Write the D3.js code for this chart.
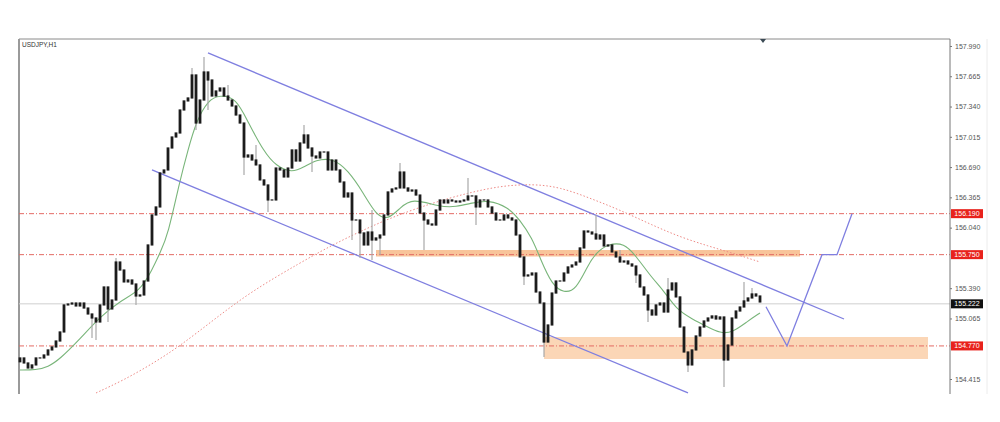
<!DOCTYPE html>
<html><head><meta charset="utf-8">
<script src="https://cdn.jsdelivr.net/npm/d3@7"></script>
<style>html,body{margin:0;padding:0;background:#fff;}svg{display:block;font-family:"Liberation Sans",Arial,sans-serif;}</style>
</head><body>
<svg id="c" width="1000" height="422"></svg>
<script>
// ---- data (USDJPY H1) ----
const symbolTitle = "USDJPY,H1";
const firstOpen = 154.600;
const closes = [
154.641,154.587,154.533,154.566,154.641,154.641,154.673,154.727,154.759,154.823,
154.920,155.210,155.220,155.231,155.199,155.231,155.177,155.113,155.070,155.027,
155.210,155.403,155.167,155.263,155.671,155.585,155.457,155.478,155.435,155.306,
155.317,155.467,155.854,156.176,156.262,156.627,156.659,156.895,157.013,157.056,
157.303,157.400,157.432,157.679,157.163,157.410,157.711,157.625,157.453,157.507,
157.539,157.453,157.410,157.346,157.249,157.163,156.798,156.820,156.766,156.713,
156.552,156.498,156.337,156.337,156.680,156.659,156.584,156.680,156.874,156.755,
156.949,157.035,156.895,156.809,156.788,156.852,156.852,156.659,156.766,156.659,
156.530,156.369,156.412,156.122,156.122,155.983,155.854,155.993,155.907,155.929,
155.961,156.176,156.423,156.455,156.466,156.637,156.466,156.433,156.444,156.390,
156.197,156.122,156.079,156.068,156.229,156.337,156.305,156.337,156.326,156.315,
156.326,156.337,156.380,156.380,156.262,156.337,156.337,156.262,156.197,156.122,
156.122,156.176,156.144,156.122,155.961,155.725,155.521,155.532,155.553,155.349,
155.231,154.812,154.995,155.338,155.467,155.467,155.553,155.618,155.639,155.671,
155.822,156.004,155.993,155.972,155.918,155.961,155.843,155.854,155.779,155.725,
155.671,155.682,155.650,155.628,155.532,155.403,155.317,155.156,155.102,155.210,
155.231,155.134,155.371,155.446,155.296,154.973,154.705,154.566,154.727,154.877,
154.973,155.038,155.070,155.092,155.059,155.081,154.619,154.780,155.070,155.145,
155.188,155.253,155.285,155.328,155.306,155.242
];
// notable wicks: [bar index, high, low]
const wicks = [
[18,null,154.855],[19,null,154.834],[22,null,155.027],[24,155.714,null],[29,null,155.210],
[43,157.754,null],[44,null,157.088],[46,157.872,null],[47,null,157.303],[52,157.571,null],
[56,null,156.605],[59,156.927,null],[62,null,156.208],[71,157.142,null],[73,null,156.637],
[83,null,155.907],[85,null,155.714],[88,156.229,155.693],[90,null,155.746],[95,156.734,null],
[101,null,155.800],[112,156.573,null],[114,null,156.068],[126,null,155.424],[131,null,154.651],
[144,156.176,null],[150,155.800,null],[154,null,155.446],[157,null,155.027],[162,155.499,null],
[167,null,154.490],[176,null,154.329],[181,155.457,null],[183,155.392,null]
];
// fast MA (green) [bar index, price]
const maFast = [
[0,154.512],[4,154.512],[7,154.544],[10,154.630],[15,154.845],[20,155.081],[25,155.253],
[30,155.360],[33,155.585],[35,155.768],[37,155.961],[40,156.552],[42,156.874],[44,157.174],
[47,157.410],[50,157.464],[54,157.432],[57,157.174],[61,156.852],[64,156.702],[68,156.627],
[71,156.691],[74,156.766],[78,156.788],[82,156.659],[86,156.401],[89,156.176],[92,156.122],
[95,156.251],[98,156.358],[105,156.262],[109,156.262],[113,156.305],[117,156.337],[122,156.262],
[125,156.122],[128,155.929],[130,155.714],[133,155.424],[136,155.338],[139,155.371],[142,155.639],
[144,155.768],[147,155.864],[151,155.875],[154,155.736],[158,155.499],[161,155.360],[164,155.167],
[168,155.059],[172,154.973],[175,154.909],[178,154.909],[182,155.038],[185,155.124]
];
// slow MA (red dotted) [bar index, price]
const maSlow = [
[19,154.265],[26,154.405],[33,154.576],[40,154.769],[49,155.070],[58,155.360],[70,155.661],
[78,155.854],[91,156.122],[103,156.305],[112,156.412],[120,156.487],[128,156.509],[135,156.476],
[143,156.348],[150,156.229],[158,156.068],[165,155.940],[172,155.843],[178,155.768],[185,155.671]
];
// descending channel [bar index, price]
const channelUpper = [[47,157.915],[206,155.059]];
const channelLower = [[33,156.659],[167,154.265]];
// projected path
const projection = [[186.5,155.19],[191.75,154.77],[200.5,155.75],[204.25,155.75],[208,156.19]];
// levels
const resistanceLevels = [156.190, 155.750, 154.770];
const currentPrice = 155.222;
// zones [start bar, end bar, top price, bottom price]
const zones = [[89,195,155.800,155.730],[131,227,154.866,154.630]];
const tickValues = [157.990,157.665,157.340,157.015,156.690,156.365,156.040,155.390,155.065,154.415];

// ---- layout ----
const L = 19, R = 950, T = 39, B = 394;
const svg = d3.select("#c");
const x = d3.scaleLinear().domain([0, closes.length - 1]).range([20, 760]);
const y = d3.scaleLinear().domain([154.254, 158.065]).range([B, T]);

// frame
svg.append("line").attr("x1", L).attr("x2", R).attr("y1", T).attr("y2", T).attr("stroke", "#8a8a8a").attr("stroke-width", 1);
svg.append("line").attr("x1", L).attr("x2", L).attr("y1", T).attr("y2", B).attr("stroke", "#9a9a9a").attr("stroke-width", 2);
svg.append("line").attr("x1", 987).attr("x2", 987).attr("y1", T).attr("y2", B).attr("stroke", "#ececec").attr("stroke-width", 1);

// zones
svg.append("g").selectAll("rect").data(zones).join("rect")
  .attr("x", d => x(d[0])).attr("width", d => x(d[1]) - x(d[0]))
  .attr("y", d => y(d[2])).attr("height", d => y(d[3]) - y(d[2]))
  .attr("fill", (d, i) => i === 0 ? "#f8c49a" : "#fbd6b6");

// horizontal levels
svg.append("line").attr("x1", L).attr("x2", R).attr("y1", y(currentPrice)).attr("y2", y(currentPrice))
  .attr("stroke", "#cfcfcf").attr("stroke-width", 1);
svg.append("g").selectAll("line").data(resistanceLevels).join("line")
  .attr("x1", L).attr("x2", R).attr("y1", d => y(d)).attr("y2", d => y(d))
  .attr("stroke", "#e46a64").attr("stroke-width", 1).attr("stroke-dasharray", "5,2,1,2");

// moving averages
const ln = d3.line().x(d => x(d[0])).y(d => y(d[1])).curve(d3.curveBasis);
svg.append("path").attr("d", ln(maSlow)).attr("fill", "none").attr("stroke", "#ee8a86")
  .attr("stroke-width", 1).attr("stroke-dasharray", "1.5,2");
svg.append("path").attr("d", ln(maFast)).attr("fill", "none").attr("stroke", "#79b57a").attr("stroke-width", 1.1);

// channel
const sl = d3.line().x(d => x(d[0])).y(d => y(d[1]));
[channelUpper, channelLower].forEach(c => svg.append("path").attr("d", sl(c)).attr("fill", "none")
  .attr("stroke", "#7f7fe0").attr("stroke-width", 1.3));

// candles
const bars = closes.map((c, i) => {
  const o = i === 0 ? firstOpen : closes[i - 1];
  const w = wicks.find(k => k[0] === i);
  const hi = w && w[1] != null ? w[1] : Math.max(o, c);
  const lo = w && w[2] != null ? w[2] : Math.min(o, c);
  return {i, o, c, hi, lo};
});
const g = svg.append("g");
g.selectAll("line").data(bars).join("line")
  .attr("x1", d => x(d.i)).attr("x2", d => x(d.i))
  .attr("y1", d => y(d.hi)).attr("y2", d => y(d.lo))
  .attr("stroke", "#a8a8a8").attr("stroke-width", 1.2);
g.selectAll("rect").data(bars).join("rect")
  .attr("x", d => x(d.i) - 1.4).attr("width", 2.8)
  .attr("y", d => y(Math.max(d.o, d.c)) - 0.6)
  .attr("height", d => Math.abs(y(d.o) - y(d.c)) + 1.2)
  .attr("fill", "#1c1c1c");

// projection
svg.append("path").attr("d", sl(projection)).attr("fill", "none").attr("stroke", "#7f7fe0").attr("stroke-width", 1.3);

// top shift marker
const mx = x(closes.length - 1) + 3;
svg.append("path").attr("d", `M${mx - 3},${T} L${mx + 3},${T} L${mx},${T + 4} Z`).attr("fill", "#3b4a55");

// title
svg.append("text").attr("x", 22).attr("y", 47).attr("font-size", 6.5).attr("fill", "#333").text(symbolTitle);

// axis
const ax = svg.append("g").attr("transform", `translate(${R},0)`)
  .call(d3.axisRight(y).tickValues(tickValues).tickSize(2).tickPadding(3).tickFormat(d3.format(".3f")));
ax.select(".domain").attr("stroke", "#777").attr("d", `M0,${T}V${B}`);
ax.selectAll(".tick line").attr("stroke", "#777");
ax.selectAll(".tick text").attr("font-size", 7).attr("fill", "#555").attr("font-family", "Liberation Sans, Arial, sans-serif");

// price labels
const labels = resistanceLevels.map(v => ({v, col: "#e8221c"})).concat([{v: currentPrice, col: "#111"}]);
const lg = svg.append("g").selectAll("g").data(labels).join("g").attr("transform", d => `translate(951,${y(d.v)})`);
lg.append("rect").attr("x", 0).attr("y", -4.5).attr("width", 32).attr("height", 9).attr("fill", d => d.col);
lg.append("text").attr("x", 16).attr("y", 2.5).attr("text-anchor", "middle").attr("font-size", 7).attr("fill", "#fff")
  .text(d => d.v.toFixed(3));
</script>
</body></html>
